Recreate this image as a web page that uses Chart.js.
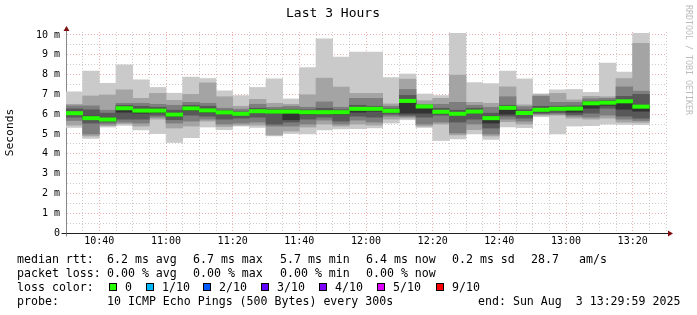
<!DOCTYPE html>
<html>
<head>
<meta charset="utf-8">
<script src="https://cdn.jsdelivr.net/npm/chart.js@4.4.1/dist/chart.umd.min.js"></script>
<style>
  html, body { margin: 0; padding: 0; background: #fff; }
  #wrap { position: relative; width: 697px; height: 315px; font-family: 'DejaVu Sans Mono', monospace; overflow: hidden; }
  canvas { position: absolute; left: 0; top: 0; }
  .txt { position: absolute; font-size: 11.6px; line-height: 14px; white-space: pre; color: #000; }
  .box { position: absolute; top: 283px; width: 6px; height: 6px; border: 1px solid #000; }
  #brand { position: absolute; left: 684px; top: 5px; writing-mode: vertical-rl; font-size: 8.3px; line-height: 10px; color: #bcbcbc; white-space: pre; }
</style>
</head>
<body>
<div id="wrap">
  <canvas id="chart" width="697" height="315"></canvas>
  <div id="brand">RRDTOOL / TOBI OETIKER</div>
  <div id="legend"></div>
</div>
<script>
// 5 minute steps, start of each step
const slots = ['10:30','10:35','10:40','10:45','10:50','10:55','11:00','11:05','11:10','11:15','11:20','11:25',
               '11:30','11:35','11:40','11:45','11:50','11:55','12:00','12:05','12:10','12:15','12:20','12:25',
               '12:30','12:35','12:40','12:45','12:50','12:55','13:00','13:05','13:10','13:15','13:20','13:25'];

// sorted ping rtts per step (ms), ping1 = fastest, ping10 = slowest
const ping1  = [5.33,4.77,5.35,5.43,5.21,5.02,4.57,4.82,5.35,5.22,5.40,5.33,4.90,5.02,5.00,5.21,5.25,5.27,5.30,5.55,5.72,5.33,4.67,4.75,5.00,4.72,5.36,5.32,5.87,5.00,5.40,5.42,5.50,5.48,5.47,null];
const ping2  = [5.45,4.90,5.42,5.52,5.40,5.75,5.30,5.40,5.65,5.38,5.45,5.45,4.95,5.15,5.35,5.50,5.40,5.50,5.45,5.75,5.80,5.40,5.50,4.95,5.22,4.90,5.62,5.50,5.95,5.95,5.80,5.75,5.80,5.60,5.58,null];
const ping3  = [5.68,5.00,5.50,5.60,5.55,5.85,5.55,5.65,5.75,5.50,5.55,5.60,5.40,5.40,5.50,5.70,5.50,5.70,5.60,5.90,5.88,5.50,5.60,5.05,5.50,5.00,5.75,5.65,6.00,6.00,5.90,5.85,5.95,5.75,5.68,null];
const ping4  = [5.85,5.55,5.60,5.75,5.75,5.95,5.72,5.95,5.90,5.75,5.80,5.85,5.50,5.60,5.75,5.85,5.65,5.90,5.85,6.00,5.95,5.85,5.95,5.60,5.75,5.30,5.90,5.80,6.05,6.08,5.98,6.05,6.30,5.90,5.80,null];
const ping5  = [5.98,5.72,5.68,6.10,6.05,6.08,5.88,6.18,6.10,6.02,5.97,6.08,6.05,5.72,6.00,6.02,6.00,6.10,6.15,6.12,6.05,6.05,6.05,5.95,6.05,5.55,6.00,6.00,6.12,6.18,6.10,6.30,6.45,6.25,6.15,null];
const ping6  = [6.10,5.90,5.80,6.35,6.25,6.25,6.05,6.33,6.25,6.12,6.05,6.20,6.18,6.15,6.15,6.15,6.15,6.32,6.30,6.20,6.72,6.42,6.18,6.08,6.18,5.85,6.36,6.10,6.27,6.32,6.33,6.60,6.62,6.70,6.42,null];
const ping7  = [6.27,6.22,6.05,6.45,6.40,6.35,6.20,6.45,6.40,6.20,6.12,6.30,6.25,6.25,6.22,6.30,6.22,6.45,6.40,6.28,6.95,6.45,6.30,6.20,6.30,6.05,6.45,6.22,6.40,6.40,6.42,6.66,6.70,6.90,7.00,null];
const ping8  = [6.42,6.42,6.20,6.55,6.55,6.50,6.45,6.60,6.55,6.30,6.25,6.50,6.35,6.40,6.35,6.62,6.35,6.80,6.80,6.40,7.25,6.50,6.50,6.60,6.45,6.35,6.88,6.38,6.90,6.60,6.60,6.78,6.80,7.38,7.16,null];
const ping9  = [6.50,6.92,6.97,7.23,6.80,7.05,6.70,7.00,7.58,6.88,6.40,6.75,6.55,6.50,6.98,7.82,7.37,7.05,7.05,6.52,7.77,6.68,6.80,7.98,6.60,6.55,7.38,6.47,6.98,7.05,6.72,6.90,6.88,7.80,9.58,null];
const ping10 = [7.13,8.18,7.56,8.49,7.73,7.35,7.06,7.87,7.80,7.18,6.94,7.35,7.78,6.77,8.35,9.80,8.88,9.13,9.13,7.85,8.03,7.02,6.94,10.08,7.60,7.55,8.18,7.78,7.03,7.23,7.25,7.10,8.58,8.13,10.08,null];
const median = [6.05,5.80,5.73,6.30,6.18,6.18,5.98,6.29,6.19,6.09,6.02,6.15,6.13,6.13,6.10,6.10,6.10,6.27,6.27,6.17,6.67,6.39,6.12,6.02,6.13,5.80,6.32,6.06,6.22,6.27,6.28,6.55,6.58,6.65,6.38,null];

const tickLabels = ['10:40','11:00','11:20','11:40','12:00','12:20','12:40','13:00','13:20'];
const yTickLabels = ['0','1 m','2 m','3 m','4 m','5 m','6 m','7 m','8 m','9 m','10 m'];

// legend rows: [text, left, top]
const rttRow  = [['median rtt:',17],['6.2 ms avg',107],['6.7 ms max',193],['5.7 ms min',280],['6.4 ms now',366],['0.2 ms sd',452],['28.7',531],['am/s',579]];
const lossRow = [['packet loss:',17],['0.00 % avg',107],['0.00 % max',193],['0.00 % min',280],['0.00 % now',366]];
const probeRow = [['probe:',17],['10 ICMP Echo Pings (500 Bytes) every 300s',107],['end: Sun Aug  3 13:29:59 2025',478]];
const lossLabels = ['0','1/10','2/10','3/10','4/10','5/10','9/10'];
const lossColors = ['#26ff00','#00b8ff','#0059ff','#5e00ff','#7e00ff','#dd00ff','#ff0000'];
const lossBoxX = [109, 146, 203, 261, 319, 377, 436];

const toMin = s => { const [h, m] = s.split(':').map(Number); return h * 60 + m; };
const t0 = toMin(slots[0]);
const fmt = v => { const t = t0 + v; return String(Math.floor(t / 60)).padStart(2, '0') + ':' + String(t % 60).padStart(2, '0'); };

const legend = document.getElementById('legend');
function addText(text, left, top) {
  const t = document.createElement('div');
  t.className = 'txt';
  t.style.left = left + 'px';
  t.style.top = top + 'px';
  t.textContent = text;
  legend.appendChild(t);
}
rttRow.forEach(([s, x]) => addText(s, x, 252));
lossRow.forEach(([s, x]) => addText(s, x, 266));
addText('loss color:', 17, 280);
lossLabels.forEach((lab, i) => {
  const b = document.createElement('div');
  b.className = 'box';
  b.style.left = lossBoxX[i] + 'px';
  b.style.background = lossColors[i];
  legend.appendChild(b);
  addText(lab, lossBoxX[i] + 16, 280);
});
probeRow.forEach(([s, x]) => addText(s, x, 294));

const medianHalf = 0.085;
function band(lo, hi) {
  const out = [];
  slots.forEach((s, i) => {
    if (lo[i] == null || hi[i] == null) return;
    out.push({ x: toMin(s) - t0 + 2.5, y: [lo[i], hi[i]] });
  });
  return out;
}

const smoke = [
  { lo: ping5, hi: ping6, color: '#323232' },
  { lo: ping4, hi: ping7, color: '#585858' },
  { lo: ping3, hi: ping8, color: '#7e7e7e' },
  { lo: ping2, hi: ping9, color: '#a4a4a4' },
  { lo: ping1, hi: ping10, color: '#cacaca' },
];

const medLo = median.map(v => v == null ? null : v - medianHalf);
const medHi = median.map(v => v == null ? null : v + medianHalf);

const datasets = [{ label: 'median', data: band(medLo, medHi), backgroundColor: lossColors[0] }]
  .concat(smoke.map((s, i) => ({ label: 'smoke' + i, data: band(s.lo, s.hi), backgroundColor: s.color })));
datasets.forEach(d => {
  d.borderWidth = 0;
  d.borderSkipped = false;
  d.barPercentage = 1;
  d.categoryPercentage = 1;
  d.grouped = false;
});

const minorGrid = 'rgba(143,143,143,0.45)';
const majorGrid = 'rgba(224,80,80,0.45)';
const isInt = v => Math.abs(v - Math.round(v)) < 1e-6;

// rrdtool style arrows on the axes
const axisArrows = {
  id: 'axisArrows',
  afterDraw(chart) {
    const { ctx, chartArea: a } = chart;
    const x0 = Math.round(a.left) + 0.5;
    const y0 = Math.round(a.bottom) + 0.5;
    ctx.save();
    ctx.lineWidth = 1;
    ctx.strokeStyle = '#888';
    ctx.beginPath();
    ctx.moveTo(x0, a.top); ctx.lineTo(x0, a.top - 3);
    ctx.moveTo(x0, y0); ctx.lineTo(x0, y0 + 3);
    ctx.stroke();
    ctx.strokeStyle = '#202020';
    ctx.beginPath();
    ctx.moveTo(a.right, y0); ctx.lineTo(a.right + 3, y0);
    ctx.moveTo(x0 - 5, y0); ctx.lineTo(x0, y0);
    ctx.stroke();
    ctx.fillStyle = '#801010';
    ctx.beginPath();
    ctx.moveTo(x0 - 3, a.top - 1); ctx.lineTo(x0 + 3, a.top - 1); ctx.lineTo(x0, a.top - 6);
    ctx.closePath(); ctx.fill();
    ctx.beginPath();
    ctx.moveTo(a.right + 2, y0 - 3); ctx.lineTo(a.right + 2, y0 + 3); ctx.lineTo(a.right + 7, y0);
    ctx.closePath(); ctx.fill();
    ctx.restore();
  }
};

Chart.defaults.font.family = "'DejaVu Sans Mono', monospace";
Chart.defaults.color = '#000';

new Chart(document.getElementById('chart').getContext('2d'), {
  type: 'bar',
  data: { datasets },
  options: {
    responsive: false,
    animation: false,
    devicePixelRatio: 1,
    layout: { padding: { left: 0, right: 31, top: 0, bottom: 62 } },
    plugins: {
      legend: { display: false },
      tooltip: { enabled: false },
      title: {
        display: true,
        text: 'Last 3 Hours',
        color: '#000',
        font: { size: 13, weight: 'normal' },
        padding: { top: 6, bottom: 10.4 }
      }
    },
    scales: {
      x: {
        type: 'linear',
        min: 0,
        max: 180,
        offset: false,
        z: 1,
        grid: {
          offset: false,
          drawTicks: false,
          lineWidth: 1,
          color: c => tickLabels.includes(fmt(c.tick.value)) ? majorGrid : minorGrid
        },
        border: { display: true, color: '#202020', width: 1, dash: [1, 2] },
        ticks: {
          stepSize: 5,
          autoSkip: false,
          maxRotation: 0,
          minRotation: 0,
          padding: 2,
          font: { size: 10 },
          callback: v => tickLabels.includes(fmt(v)) ? fmt(v) : ''
        },
        afterFit: s => { s.height = 20; }
      },
      y: {
        min: 0,
        max: 10.15,
        z: 1,
        grid: {
          drawTicks: false,
          lineWidth: 1,
          color: c => isInt(c.tick.value) ? majorGrid : minorGrid
        },
        border: { display: true, color: '#888', width: 1, dash: [1, 2] },
        ticks: {
          stepSize: 0.5,
          autoSkip: false,
          includeBounds: false,
          padding: 6,
          font: { size: 10 },
          callback: v => isInt(v) ? yTickLabels[Math.round(v)] : ''
        },
        title: {
          display: true,
          text: 'Seconds',
          color: '#000',
          font: { size: 11.3 },
          padding: { top: 3, bottom: 0 }
        },
        afterFit: s => { s.width = 66; }
      }
    }
  },
  plugins: [axisArrows]
});
</script>
</body>
</html>
